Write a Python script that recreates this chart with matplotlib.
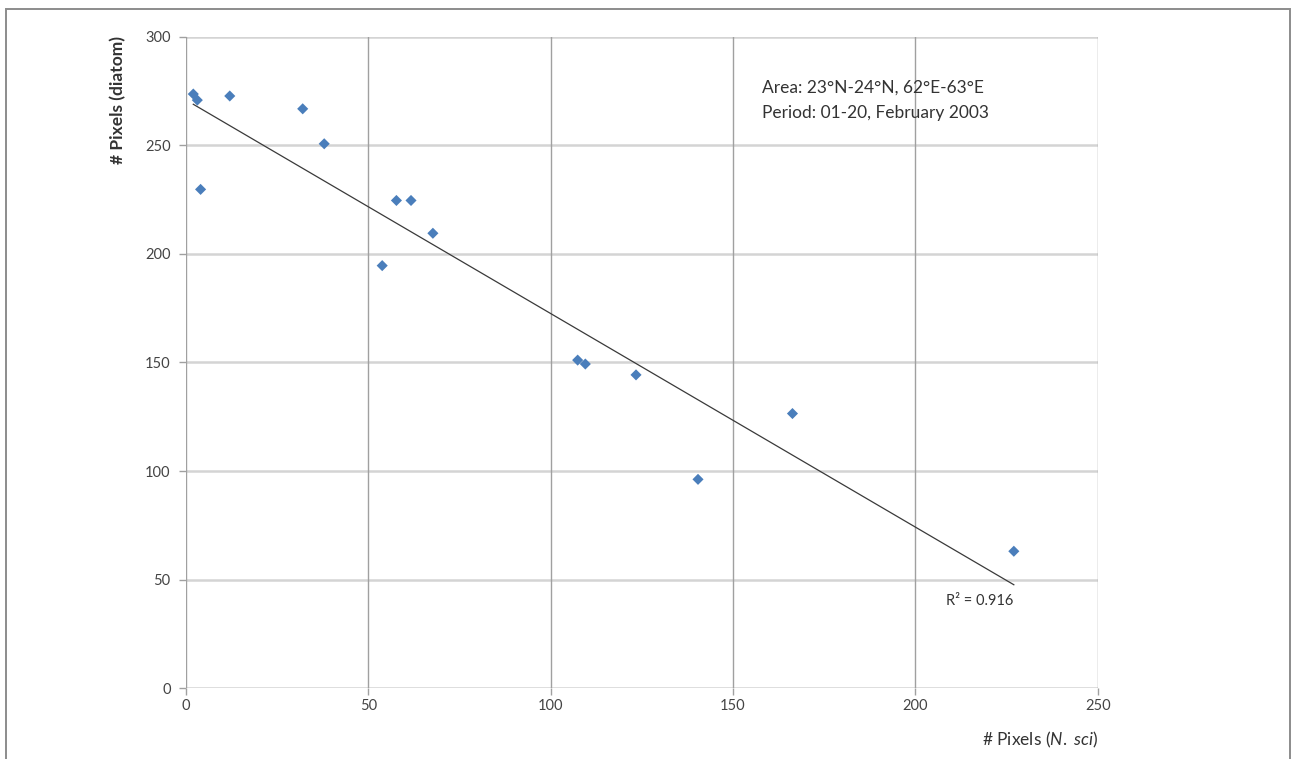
import matplotlib

matplotlib.use("Agg", force=True)
import matplotlib.pyplot as plt
import numpy as np
from matplotlib.patches import Rectangle

# values
n_sci_pixels = [2.0, 3.1, 4.0, 12.0, 32.0, 37.9, 53.8, 57.7, 61.7, 67.7,
                107.4, 109.5, 123.4, 140.4, 166.3, 227.0]
diatom_pixels = [273.6, 270.8, 229.7, 272.7, 266.8, 250.7, 194.6, 224.6, 224.6, 209.5,
                 151.1, 149.3, 144.3, 96.2, 126.5, 63.1]
x_ticks = [0, 50, 100, 150, 200, 250]
y_ticks = [0, 50, 100, 150, 200, 250, 300]
r2_label = "R\u00b2 = 0.916"
note_lines = ["Area: 23\u00b0N-24\u00b0N, 62\u00b0E-63\u00b0E", "Period: 01-20, February 2003"]

plt.rcParams["font.family"] = ["Lato", "DejaVu Sans"]
plt.rcParams["mathtext.fontset"] = "custom"
plt.rcParams["mathtext.rm"] = "Lato"
plt.rcParams["mathtext.it"] = "Lato:italic"

fig = plt.figure(figsize=(12.92, 7.59), dpi=100)
fig.patches.append(Rectangle((6 / 1292, -0.05), 1284 / 1292, 1.05 - 9 / 759,
                             transform=fig.transFigure, fill=False,
                             edgecolor="#8c8c8c", linewidth=1.4))

ax = fig.add_axes([186 / 1292, 1 - 688.3 / 759, 911.7 / 1292, 651.6 / 759])
ax.set_xlim(0, 250)
ax.set_ylim(0, 300)
for side in ax.spines.values():
    side.set_visible(False)

for xv in x_ticks:
    ax.axvline(xv, color="#a0a0a0", linewidth=1.0, zorder=1)
for yv in y_ticks:
    ax.axhline(yv, color="#d4d4d4", linewidth=1.8, zorder=0)

ax.set_xticks(x_ticks)
ax.set_yticks(y_ticks)
ax.tick_params(axis="both", colors="#a0a0a0", length=5, width=1.0,
               labelcolor="#444444", labelsize=10.5)
ax.tick_params(axis="x", pad=3)
ax.tick_params(axis="y", pad=6)

x = np.array(n_sci_pixels)
y = np.array(diatom_pixels)
slope, intercept = np.polyfit(x, y, 1)
fit_x = np.array([x.min(), x.max()])
ax.plot(fit_x, slope * fit_x + intercept, color="#3a3a3a", linewidth=0.9, zorder=2)

ax.scatter(x, y, marker="D", s=32, color="#4a7ebb", edgecolors="none", zorder=3)

ax.text(208.5, 40, r2_label, fontsize=10.5, color="#333333", va="center", ha="left")
ax.text(158, 276.4, note_lines[0], fontsize=12.5, color="#333333", va="center", ha="left")
ax.text(158, 264.9, note_lines[1], fontsize=12.5, color="#333333", va="center", ha="left")

fig.text(118 / 1292, 1 - 36 / 759, "# Pixels (diatom)", rotation=90, ha="center", va="top",
         fontsize=12.5, fontweight="bold", color="#333333")
fig.text(1098 / 1292, 1 - 740 / 759, r"# Pixels ($\it{N.\ sci}$)", ha="right", va="center",
         fontsize=12.5, color="#333333")

fig.savefig("out.png", dpi=100, facecolor="white")
